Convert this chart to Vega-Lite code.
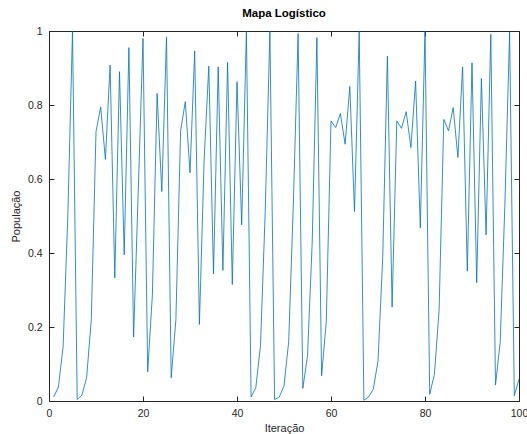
{
  "$schema": "https://vega.github.io/schema/vega-lite/v6.json",
  "width": 470,
  "height": 370,
  "autosize": {"type": "none"},
  "padding": {"left": 49, "top": 31, "right": 8, "bottom": 33},
  "background": "white",
  "config": {
    "view": {"stroke": "#262626", "strokeWidth": 1},
    "font": "Liberation Sans",
    "axis": {"grid": false, "domainColor": "#262626", "tickColor": "#262626", "labelColor": "#262626", "titleColor": "#262626", "labelFont": "Liberation Sans", "titleFont": "Liberation Sans", "labelFontSize": 10.5, "titleFontSize": 11, "titleFontWeight": "normal"}
  },
  "title": {"text": "Mapa Logístico", "fontSize": 11.5, "fontWeight": "bold", "color": "#000000", "font": "Liberation Sans", "anchor": "middle", "offset": 7},
  "data": {"values": [
    {"it": 1, "p": 0.011}, {"it": 2, "p": 0.038}, {"it": 3, "p": 0.146}, {"it": 4, "p": 0.50}, {"it": 5, "p": 0.999},
    {"it": 6, "p": 0.004}, {"it": 7, "p": 0.016}, {"it": 8, "p": 0.063}, {"it": 9, "p": 0.22}, {"it": 10, "p": 0.728},
    {"it": 11, "p": 0.795}, {"it": 12, "p": 0.653}, {"it": 13, "p": 0.908}, {"it": 14, "p": 0.333}, {"it": 15, "p": 0.890},
    {"it": 16, "p": 0.395}, {"it": 17, "p": 0.955}, {"it": 18, "p": 0.173}, {"it": 19, "p": 0.572}, {"it": 20, "p": 0.980},
    {"it": 21, "p": 0.079}, {"it": 22, "p": 0.288}, {"it": 23, "p": 0.831}, {"it": 24, "p": 0.566}, {"it": 25, "p": 0.984},
    {"it": 26, "p": 0.063}, {"it": 27, "p": 0.22}, {"it": 28, "p": 0.73}, {"it": 29, "p": 0.809}, {"it": 30, "p": 0.617},
    {"it": 31, "p": 0.946}, {"it": 32, "p": 0.207}, {"it": 33, "p": 0.65}, {"it": 34, "p": 0.905}, {"it": 35, "p": 0.344},
    {"it": 36, "p": 0.903}, {"it": 37, "p": 0.353}, {"it": 38, "p": 0.915}, {"it": 39, "p": 0.315}, {"it": 40, "p": 0.863},
    {"it": 41, "p": 0.476}, {"it": 42, "p": 0.999}, {"it": 43, "p": 0.011}, {"it": 44, "p": 0.036}, {"it": 45, "p": 0.15},
    {"it": 46, "p": 0.51}, {"it": 47, "p": 0.999}, {"it": 48, "p": 0.004}, {"it": 49, "p": 0.011}, {"it": 50, "p": 0.041},
    {"it": 51, "p": 0.16}, {"it": 52, "p": 0.538}, {"it": 53, "p": 0.993}, {"it": 54, "p": 0.034}, {"it": 55, "p": 0.122},
    {"it": 56, "p": 0.428}, {"it": 57, "p": 0.982}, {"it": 58, "p": 0.068}, {"it": 59, "p": 0.216}, {"it": 60, "p": 0.757},
    {"it": 61, "p": 0.739}, {"it": 62, "p": 0.777}, {"it": 63, "p": 0.694}, {"it": 64, "p": 0.850}, {"it": 65, "p": 0.512},
    {"it": 66, "p": 0.999}, {"it": 67, "p": 0.002}, {"it": 68, "p": 0.011}, {"it": 69, "p": 0.032}, {"it": 70, "p": 0.108},
    {"it": 71, "p": 0.385}, {"it": 72, "p": 0.932}, {"it": 73, "p": 0.254}, {"it": 74, "p": 0.757}, {"it": 75, "p": 0.737},
    {"it": 76, "p": 0.782}, {"it": 77, "p": 0.685}, {"it": 78, "p": 0.865}, {"it": 79, "p": 0.468}, {"it": 80, "p": 0.999},
    {"it": 81, "p": 0.018}, {"it": 82, "p": 0.072}, {"it": 83, "p": 0.245}, {"it": 84, "p": 0.761}, {"it": 85, "p": 0.730},
    {"it": 86, "p": 0.793}, {"it": 87, "p": 0.658}, {"it": 88, "p": 0.903}, {"it": 89, "p": 0.351}, {"it": 90, "p": 0.914},
    {"it": 91, "p": 0.320}, {"it": 92, "p": 0.872}, {"it": 93, "p": 0.449}, {"it": 94, "p": 0.991}, {"it": 95, "p": 0.043},
    {"it": 96, "p": 0.158}, {"it": 97, "p": 0.532}, {"it": 98, "p": 0.998}, {"it": 99, "p": 0.014}, {"it": 100, "p": 0.059}
  ]},
  "layer": [
    {
      "mark": {"type": "line", "color": "#0072BD", "strokeWidth": 0.8, "clip": true},
      "encoding": {
        "x": {"field": "it", "type": "quantitative", "scale": {"domain": [0, 100], "nice": false},
              "axis": {"orient": "bottom", "title": "Iteração", "values": [0, 20, 40, 60, 80, 100], "format": "d", "tickSize": -5, "labelPadding": 12, "titlePadding": 4, "domain": false, "labelFlush": false, "labelBound": false, "labelOverlap": false}},
        "y": {"field": "p", "type": "quantitative", "scale": {"domain": [0, 1], "nice": false},
              "axis": {"orient": "left", "title": "População", "values": [0, 0.2, 0.4, 0.6, 0.8, 1], "format": "~g", "tickSize": -5, "labelPadding": 12, "titlePadding": 6, "domain": false, "labelFlush": false}}
      }
    },
    {
      "mark": {"type": "line", "opacity": 0},
      "encoding": {
        "x": {"field": "it", "type": "quantitative", "scale": {"domain": [0, 100], "nice": false},
              "axis": {"orient": "top", "title": null, "values": [0, 20, 40, 60, 80, 100], "labels": false, "tickSize": -5, "domain": false}},
        "y": {"field": "p", "type": "quantitative", "scale": {"domain": [0, 1], "nice": false},
              "axis": {"orient": "right", "title": null, "values": [0, 0.2, 0.4, 0.6, 0.8, 1], "labels": false, "tickSize": -5, "domain": false}}
      }
    }
  ],
  "resolve": {"axis": {"x": "independent", "y": "independent"}}
}
